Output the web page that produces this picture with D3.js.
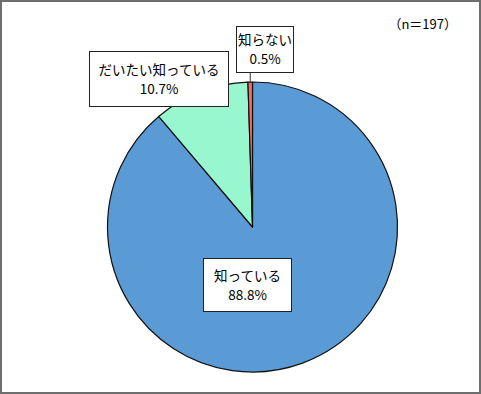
<!DOCTYPE html>
<html>
<head>
<meta charset="utf-8">
<script src="https://cdn.jsdelivr.net/npm/d3@7"></script>
<style>
  html, body { margin: 0; padding: 0; background: #fff; }
  svg { display: block; }
</style>
</head>
<body>
<div id="chart"></div>
<script>
// answer categories and shares (%)
const categories = ["知っている", "だいたい知っている", "知らない"];
const shares = [88.8, 10.7, 0.5];
const sampleNote = "（n＝197）";

const W = 481, H = 394;
const cx = 252.5, cy = 227, radius = 145;
const font = "'Noto Sans CJK JP', 'Noto Sans', sans-serif";

const colors = d3.scaleOrdinal()
    .domain(categories)
    .range(["#5B9BD5", "#99F7CF", "#FF6666"]);

const svg = d3.select("#chart").append("svg")
    .attr("width", W)
    .attr("height", H);

// outer frame
svg.append("rect")
    .attr("x", 1).attr("y", 1)
    .attr("width", W - 2).attr("height", H - 2)
    .attr("fill", "#fff")
    .attr("stroke", "#6e6e6e")
    .attr("stroke-width", 2);

const pie = d3.pie().sort(null).value(d => d.value);
const arc = d3.arc().innerRadius(0).outerRadius(radius);

const data = categories.map((c, i) => ({ name: c, value: shares[i] }));
const arcs = pie(data);

const g = svg.append("g")
    .attr("transform", `translate(${cx},${cy})`);

g.selectAll("path.slice")
    .data(arcs)
    .join("path")
    .attr("class", "slice")
    .attr("d", arc)
    .attr("fill", d => colors(d.data.name))
    .attr("stroke", "#111")
    .attr("stroke-width", 1.2)
    .attr("stroke-linejoin", "round");

// label boxes (layout only)
const labelBoxes = {
    "知っている": { x: 203, y: 258, w: 88, h: 53 },
    "だいたい知っている": { x: 89, y: 51, w: 139, h: 55 },
    "知らない": { x: 236, y: 26, w: 57, h: 46 }
};

// leader line for the thin slice
const small = arcs[2];
const mid = (small.startAngle + small.endAngle) / 2;
const lb = labelBoxes["知らない"];
svg.append("line")
    .attr("x1", cx + Math.sin(mid) * radius)
    .attr("y1", cy - Math.cos(mid) * radius)
    .attr("x2", cx + Math.sin(mid) * radius)
    .attr("y2", lb.y + lb.h)
    .attr("stroke", "#333")
    .attr("stroke-width", 1);

const labels = svg.selectAll("g.label")
    .data(arcs)
    .join("g")
    .attr("class", "label")
    .attr("transform", d => {
        const b = labelBoxes[d.data.name];
        return `translate(${b.x},${b.y})`;
    });

labels.append("rect")
    .attr("x", 0.5).attr("y", 0.5)
    .attr("width", d => labelBoxes[d.data.name].w)
    .attr("height", d => labelBoxes[d.data.name].h)
    .attr("fill", "#fff")
    .attr("stroke", "#222")
    .attr("stroke-width", 1);

labels.append("text")
    .attr("x", d => labelBoxes[d.data.name].w / 2 + 0.5)
    .attr("y", d => labelBoxes[d.data.name].h / 2 - 4)
    .attr("text-anchor", "middle")
    .attr("font-family", font)
    .attr("font-size", "13.5px")
    .attr("fill", "#000")
    .text(d => d.data.name);

labels.append("text")
    .attr("x", d => labelBoxes[d.data.name].w / 2 + 0.5)
    .attr("y", d => labelBoxes[d.data.name].h / 2 + 15)
    .attr("text-anchor", "middle")
    .attr("font-family", font)
    .attr("font-size", "13.5px")
    .attr("fill", "#000")
    .text(d => d3.format(".1f")(d.data.value) + "%");

svg.append("text")
    .attr("x", 457)
    .attr("y", 29)
    .attr("text-anchor", "end")
    .attr("font-family", font)
    .attr("font-size", "13px")
    .attr("fill", "#000")
    .text(sampleNote);
</script>
</body>
</html>
